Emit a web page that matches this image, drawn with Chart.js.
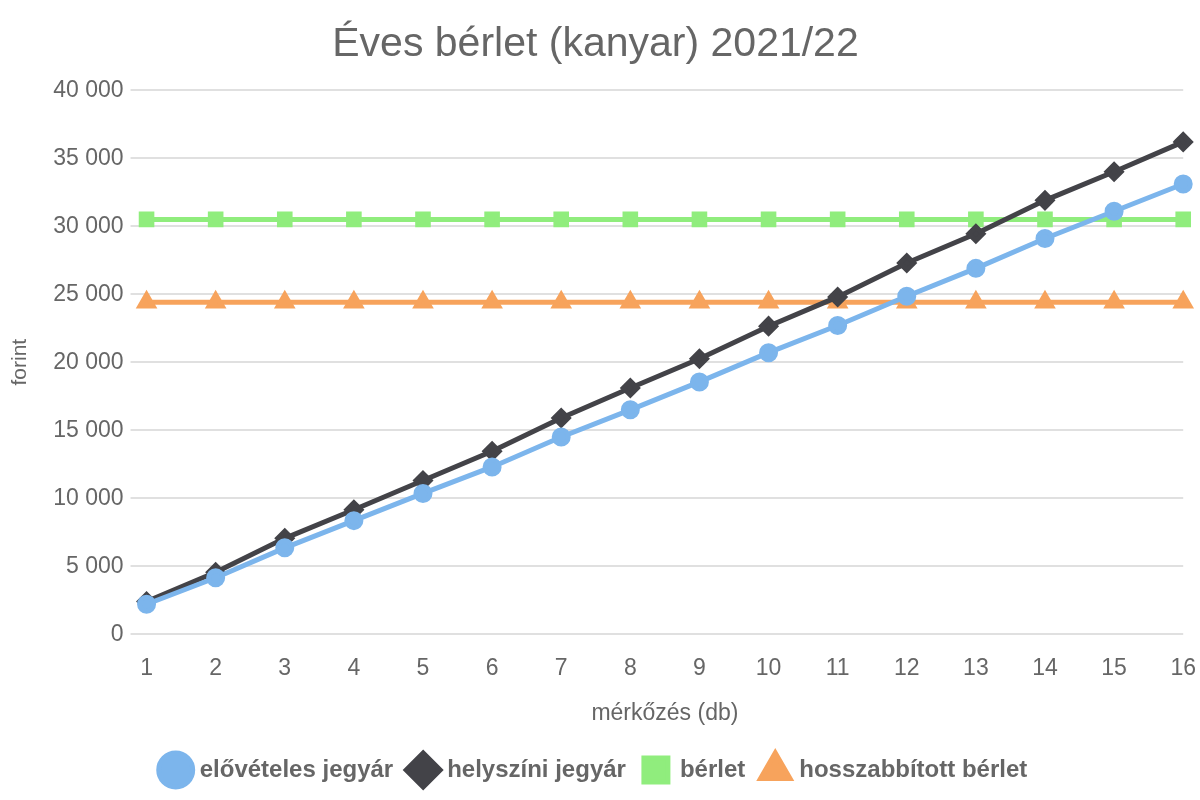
<!DOCTYPE html>
<html>
<head>
<meta charset="utf-8">
<script src="https://cdn.jsdelivr.net/npm/chart.js@4/dist/chart.umd.min.js"></script>
<style>
  html, body { margin: 0; padding: 0; background: #fff; }
  #wrap { width: 1200px; height: 800px; }
</style>
</head>
<body>
<div id="wrap"><canvas id="chart"></canvas></div>
<script>
const matches = ['1','2','3','4','5','6','7','8','9','10','11','12','13','14','15','16'];
const presale = [2200, 4150, 6350, 8350, 10350, 12300, 14500, 16500, 18550, 20700, 22700, 24850, 26900, 29100, 31100, 33100];
const onSite = [2400, 4550, 7050, 9150, 11300, 13450, 15900, 18100, 20250, 22650, 24800, 27300, 29450, 31900, 34000, 36200];
const season = [30500, 30500, 30500, 30500, 30500, 30500, 30500, 30500, 30500, 30500, 30500, 30500, 30500, 30500, 30500, 30500];
const renewed = [24400, 24400, 24400, 24400, 24400, 24400, 24400, 24400, 24400, 24400, 24400, 24400, 24400, 24400, 24400, 24400];

const gray = '#666666';
Chart.defaults.font.family = '"Liberation Sans", Arial, Helvetica, sans-serif';
Chart.defaults.color = gray;

const fmt = v => String(v).replace(/\B(?=(\d{3})+(?!\d))/g, ' ');

new Chart(document.getElementById('chart'), {
  type: 'line',
  data: {
    labels: matches,
    datasets: [
      { label: 'elővételes jegyár', data: presale, borderColor: '#7cb5ec', backgroundColor: '#7cb5ec',
        pointStyle: 'circle', pointRadius: 7, borderWidth: 5 },
      { label: 'helyszíni jegyár', data: onSite, borderColor: '#434348', backgroundColor: '#434348',
        pointStyle: 'rectRot', pointRadius: 7, borderWidth: 5 },
      { label: 'bérlet', data: season, borderColor: '#90ed7d', backgroundColor: '#90ed7d',
        pointStyle: 'rect', pointRadius: 7.5, borderWidth: 5 },
      { label: 'hosszabbított bérlet', data: renewed, borderColor: '#f7a35c', backgroundColor: '#f7a35c',
        pointStyle: 'triangle', pointRadius: 7.5, borderWidth: 5 }
    ]
  },
  options: {
    responsive: true,
    maintainAspectRatio: false,
    animation: false,
    clip: false,
    layout: { padding: { left: 0, right: 9, top: 0, bottom: 8 } },
    elements: { point: { borderWidth: 0, hoverRadius: 8 }, line: { tension: 0 } },
    plugins: {
      title: {
        display: true,
        text: 'Éves bérlet (kanyar) 2021/22',
        color: gray,
        font: { size: 41, weight: 'normal' },
        padding: { top: 20, bottom: 21 }
      },
      legend: {
        position: 'bottom',
        labels: {
          usePointStyle: true,
          boxWidth: 24,
          boxHeight: 24,
          color: gray,
          font: { size: 24, weight: 'bold' },
          padding: 18
        }
      },
      tooltip: { enabled: false }
    },
    scales: {
      x: {
        offset: false,
        grid: { display: false, drawTicks: true, tickLength: 17 },
        border: { display: false },
        ticks: { font: { size: 23 }, color: gray, padding: 4 },
        title: { display: true, text: 'mérkőzés (db)', font: { size: 23 }, color: gray, padding: { top: 12.6, bottom: 13 } }
      },
      y: {
        min: 0,
        max: 40000,
        grid: { color: '#e0e0e0', lineWidth: 2, tickLength: 16 },
        border: { display: false },
        ticks: { stepSize: 5000, font: { size: 23 }, color: gray, padding: 7, callback: v => fmt(v) },
        title: { display: true, text: 'forint', font: { size: 21 }, color: gray, padding: { top: 8, bottom: 13 } }
      }
    }
  }
});
</script>
</body>
</html>
